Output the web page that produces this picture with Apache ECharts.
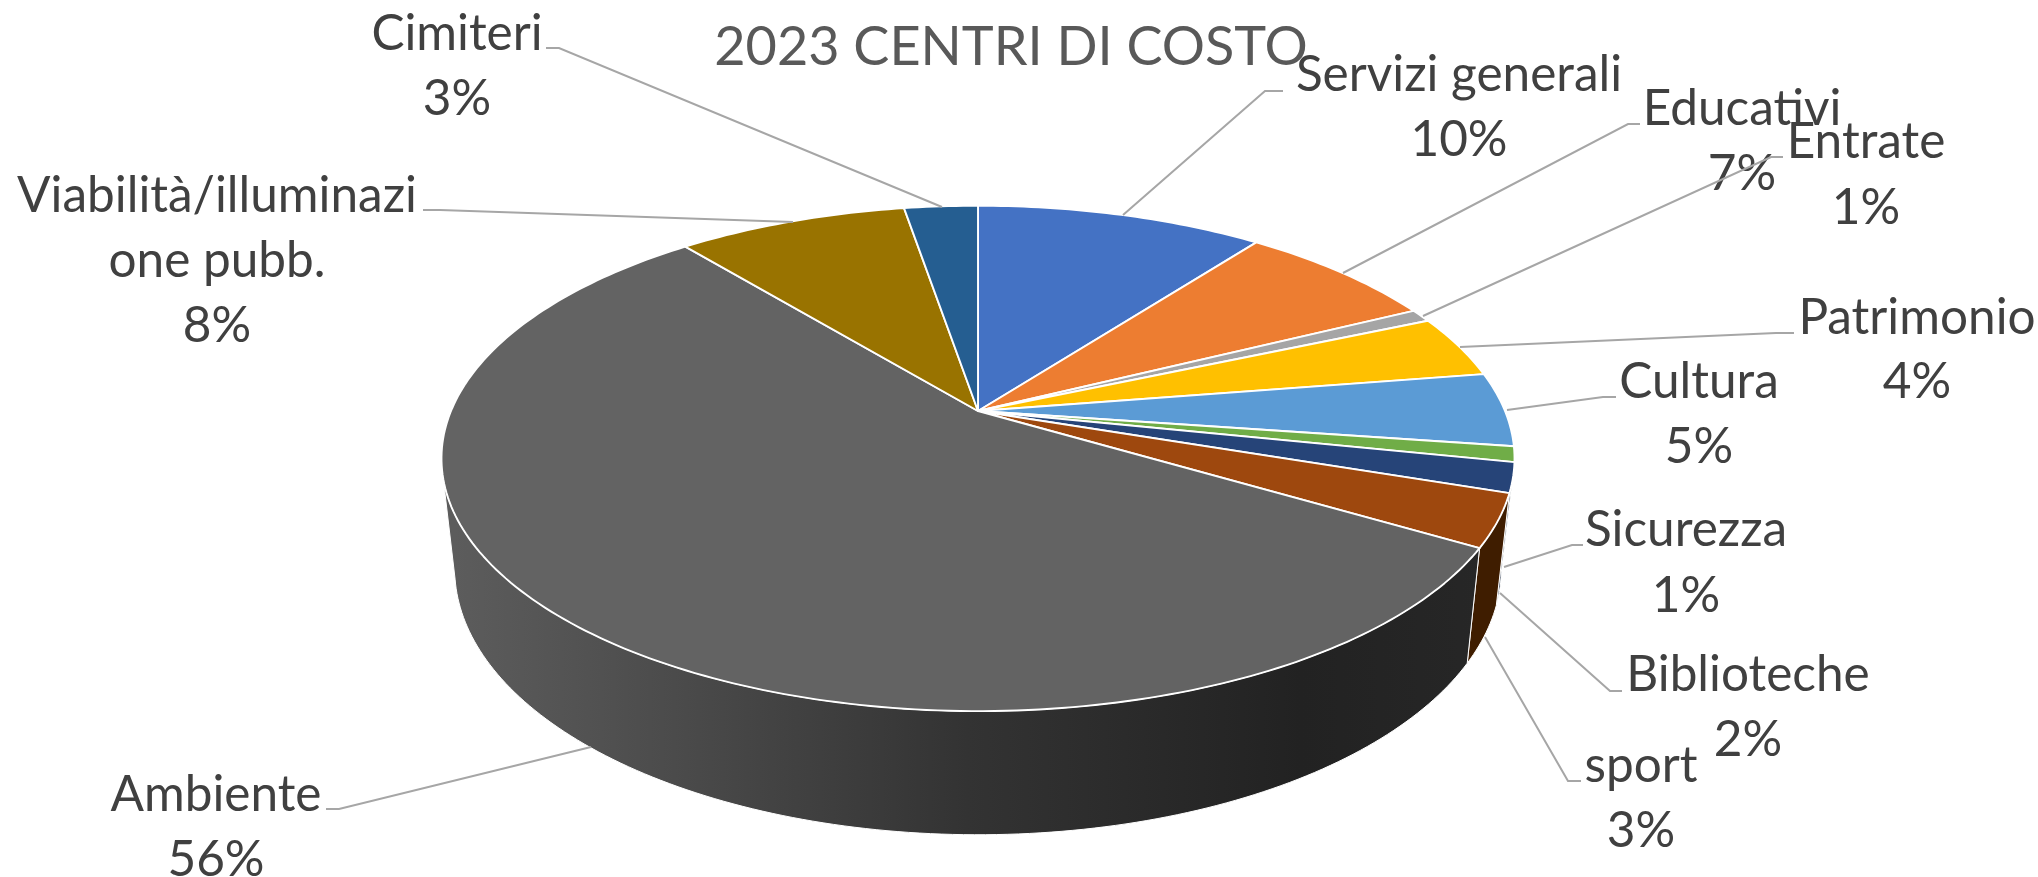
<!DOCTYPE html>
<html><head><meta charset="utf-8"><style>html,body{margin:0;background:#fff}#c{width:2038px;height:877px}</style>
<script src="https://cdn.jsdelivr.net/npm/echarts@6/dist/echarts.min.js"></script></head>
<body><div id="c"></div><script>
const titleText = '2023 CENTRI DI COSTO';
const categories = ['Servizi generali','Educativi','Entrate','Patrimonio','Cultura','Sicurezza','Biblioteche','sport','Ambiente','Viabilità/illuminazione pubb.','Cimiteri'];
const values = [10.38,7.28,0.83,4.03,4.73,0.99,1.90,3.36,55.55,8.31,2.66];
const topColors = ['#4472C4','#ED7D31','#A5A5A5','#FFC000','#5B9BD5','#70AD47','#264478','#9E480E','#636363','#997300','#255E91'];
const sideColors = ['#223962','#773F18','#525252','#806000','#2E4E6A','#385723','#132239','#3F1D00','#444','#4C3900','#132F48'];

// perspective model of the disc (layout only)
const P = {cx:978, topY:411, a:527, b:243.8, p:0.1876, botY:519, a2:514, b2:256.5,
           sideFrom:100, topTo:254.5, botTo:257};
const FS = 49.5;
const labelLayout = [
 {cx:1459, base:[90,155],  line:[[1283,91],[1265,91],[1123,215]]},
 {cx:1742, base:[124,189], line:[[1640,124],[1628,124],[1343,273]]},
 {cx:1866, base:[157,223], line:[[1783,157],[1771,157],[1423,316]]},
 {cx:1917, base:[333,397], line:[[1794,333],[1776,333],[1460,347]]},
 {cx:1699, base:[397,462], line:[[1616,397],[1603,397],[1507,410]]},
 {cx:1686, base:[545,611], line:[[1583,545],[1572,545],[1504,567]]},
 {cx:1748, base:[690,755], line:[[1622,691],[1610,691],[1500,593]]},
 {cx:1641, base:[781,846], line:[[1581,781],[1568,781],[1485,637]]},
 {cx:216,  base:[810,875], line:[[326,809],[339,809],[591,747]]},
 {cx:217,  base:[211,276,341], wrap:20, line:[[423,210],[440,210],[793,222]]},
 {cx:457,  base:[49,114],  line:[[546,48],[559,48],[942,207]]}
];

const total = values.reduce((s,v)=>s+v,0);
const startPct = i => values.slice(0,i).reduce((s,v)=>s+v,0);
const rad = d => d*Math.PI/180;
function project(deg, bottom){
  const u=Math.sin(rad(deg)), v=Math.cos(rad(deg));
  const a=bottom?P.a2:P.a, b=bottom?P.b2:P.b, y0=bottom?P.botY:P.topY;
  const k=1+P.p*v;
  return [P.cx+a*u/k, y0-b*v/k];
}
function arc(d1,d2,bottom){
  const pts=[], n=Math.max(2,Math.ceil(Math.abs(d2-d1)));
  for(let i=0;i<=n;i++) pts.push(project(d1+(d2-d1)*i/n,bottom));
  return pts;
}
const angles = (val,i)=>{const s=startPct(i)/total*360; return [s,s+val/total*360];};

const sideFill = {type:'linear',global:true,x:455,y:0,x2:1500,y2:0,colorStops:[
  {offset:0,color:'#5c5c5c'},{offset:.14,color:'#515151'},{offset:.49,color:'#333333'},{offset:.81,color:'#222222'},{offset:1,color:'#272727'}]};

function renderSide(params,api){
  const i=params.dataIndex, [s,e]=angles(api.value(0),i);
  const d1=Math.max(s,P.sideFrom);
  if(e<=d1 || s>=P.botTo) return null;
  const pts=arc(d1,Math.min(e,P.topTo),false).concat(arc(Math.min(e,P.botTo),d1,true));
  return {type:'polygon',shape:{points:pts},style:{
    fill:categories[i]==='Ambiente'?sideFill:sideColors[i],stroke:'#fff',lineWidth:1}};
}
function renderTop(params,api){
  const i=params.dataIndex, [s,e]=angles(api.value(0),i);
  return {type:'polygon',shape:{points:[[P.cx,P.topY]].concat(arc(s,e,false))},
    style:{fill:topColors[i],stroke:'#fff',lineWidth:1.9,lineJoin:'round'}};
}
function renderLabel(params,api){
  const i=params.dataIndex, L=labelLayout[i], name=categories[i];
  const pct=Math.round(api.value(0)/total*100)+'%';
  const lines=(L.wrap?[name.slice(0,L.wrap),name.slice(L.wrap)]:[name]).concat(pct);
  const kids=[{type:'polyline',shape:{points:L.line},style:{fill:null,stroke:'#A6A6A6',lineWidth:2}}];
  lines.forEach((t,j)=>kids.push({type:'text',style:{text:t,x:L.cx,y:L.base[j]-0.31*FS,
     align:'center',verticalAlign:'middle',font:FS+'px Lato',fill:'#404040'}}));
  return {type:'group',children:kids};
}
const data = values.map(v=>[v]);
const chart = echarts.init(document.getElementById('c'),null,{renderer:'canvas'});
chart.setOption({
  backgroundColor:'#fff',animation:false,
  title:{text:titleText,left:1006,top:16,textAlign:'center',textStyle:{fontFamily:'Lato',fontWeight:'normal',fontSize:54,color:'#595959'}},
  series:[
   {type:'custom',coordinateSystem:'none',renderItem:renderSide,data,z:1,silent:true,clip:false},
   {type:'custom',coordinateSystem:'none',renderItem:renderTop,data,z:2,silent:true,clip:false},
   {type:'custom',coordinateSystem:'none',renderItem:renderLabel,data,z:3,silent:true,clip:false}
  ]
});
</script></body></html>
